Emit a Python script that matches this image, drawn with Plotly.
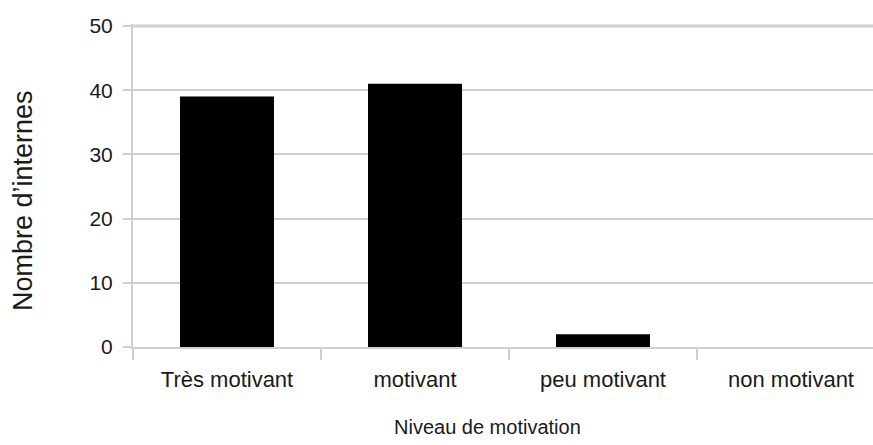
import plotly.graph_objects as go

categories = ["Très motivant", "motivant", "peu motivant", "non motivant"]
values = [39, 41, 2, 0]
y_ticks = [0, 10, 20, 30, 40, 50]

FONT = "Liberation Sans, Arial, sans-serif"
GRID = "#cfcfcf"
TXT = "#1a1a1a"

W, H = 873, 445
Y0_PX, Y50_PX = 347, 26
PX_PER_UNIT = (Y0_PX - Y50_PX) / 50
TOP_PX = 24
L, T, B = 133, TOP_PX, H - Y0_PX
PW, PH = W - L, H - T - B
Y_MAX = (Y0_PX - TOP_PX) / PX_PER_UNIT
X_MAX = -0.5 + PW / 188.0

fig = go.Figure(
    go.Bar(
        x=categories,
        y=values,
        width=0.5,
        marker=dict(color="#000000", line=dict(width=0)),
        hoverinfo="skip",
    )
)

fig.update_layout(
    width=W,
    height=H,
    margin=dict(l=L, r=0, t=T, b=B, autoexpand=False),
    paper_bgcolor="white",
    plot_bgcolor="white",
    showlegend=False,
    font=dict(family=FONT, color=TXT),
    xaxis=dict(
        range=[-0.5, X_MAX],
        showgrid=False,
        showline=True,
        linecolor=GRID,
        linewidth=2,
        ticks="outside",
        tickson="boundaries",
        ticklen=11,
        tickcolor=GRID,
        tickwidth=2,
        ticklabelstandoff=12,
        tickfont=dict(size=22, family=FONT, color=TXT),
        fixedrange=True,
    ),
    yaxis=dict(
        range=[0, Y_MAX],
        tickvals=y_ticks,
        showgrid=True,
        gridcolor=GRID,
        gridwidth=2,
        zeroline=False,
        showline=True,
        linecolor=GRID,
        linewidth=2,
        ticks="outside",
        ticklen=8,
        tickcolor=GRID,
        tickwidth=2,
        ticklabelstandoff=6,
        tickfont=dict(size=21, family=FONT, color=TXT),
        fixedrange=True,
    ),
    shapes=[
        dict(
            type="line", xref="paper", yref="y",
            x0=0, x1=1, y0=50, y1=50,
            line=dict(color=GRID, width=3),
            layer="below",
        )
    ],
    annotations=[
        dict(
            text="Niveau de motivation",
            xref="paper", yref="paper",
            x=(487 - L) / PW, y=-(427 - Y0_PX) / PH,
            xanchor="center", yanchor="middle",
            showarrow=False,
            font=dict(size=20, family=FONT, color=TXT),
        ),
        dict(
            text="Nombre d’internes",
            xref="paper", yref="paper",
            x=-(L - 23) / PW, y=(Y0_PX - 201) / PH,
            xanchor="center", yanchor="middle",
            textangle=-90,
            showarrow=False,
            font=dict(size=27, family=FONT, color=TXT),
        ),
    ],
)

fig.write_html(
    "out.html",
    config={"displayModeBar": False},
    post_script="document.body.style.margin='0';document.body.style.overflow='hidden';",
)
